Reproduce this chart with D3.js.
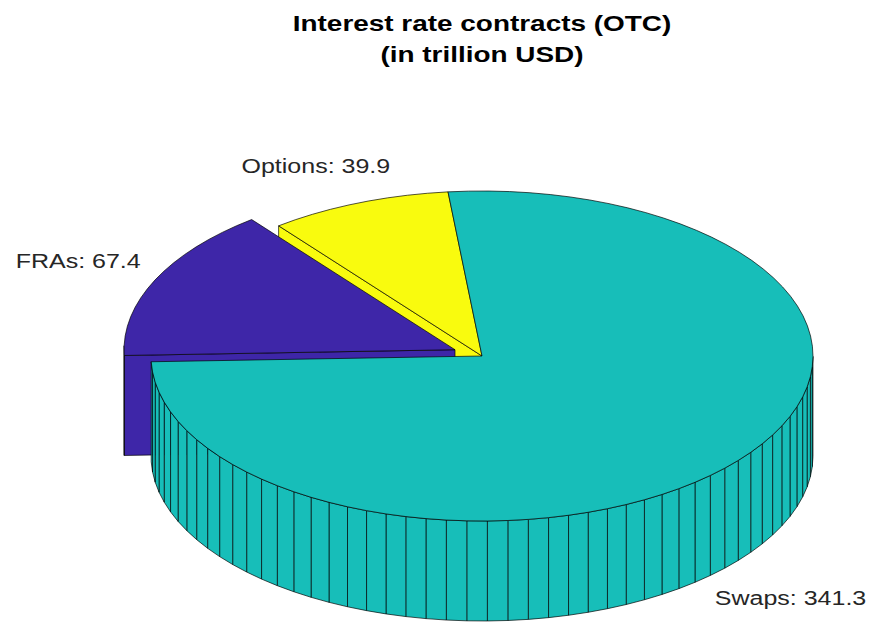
<!DOCTYPE html>
<html><head><meta charset="utf-8">
<script src="https://cdn.jsdelivr.net/npm/d3@7"></script>
<style>body{margin:0;background:#fff}svg{display:block}</style>
</head><body>
<svg id="chart" width="873" height="623"></svg>
<script>
// ---- data ----
const categories = ["FRAs", "Options", "Swaps"];
const values = [67.4, 39.9, 341.3];
const exploded = [true, false, false];
const sliceColors = ["#3E26A8", "#F9FB0E", "#17BEB9"];
const titleLines = ["Interest rate contracts (OTC)", "(in trillion USD)"];

// ---- layout ----
const W = 873, H = 623;
const cx = 482, cy = 356, rx = 331, ry = 165, depth = 100;
const startDeg = 268;       // d3 pie angle (clockwise from 12 o'clock)
const explodeDist = 0.09;
const maxPts = 100;
const textStretch = 1.25;
const labelNudge = { FRAs: [-17, 2], Options: [-18, 1], Swaps: [9, 19] };

const svg = d3.select("#chart");
const xScale = d3.scaleLinear().domain([-1, 1]).range([cx - rx, cx + rx]);
const yScale = d3.scaleLinear().domain([-1, 1]).range([cy + ry, cy - ry]);
const zScale = d3.scaleLinear().domain([0, 1]).range([0, depth]);

const total = d3.sum(values);
const data = categories.map((c, i) => ({ name: c, value: values[i], color: sliceColors[i], explode: exploded[i], idx: i }));
const pie = d3.pie().sort(null).value(d => d.value)
  .startAngle(startDeg * Math.PI / 180).endAngle((startDeg + 360) * Math.PI / 180);
const arcs = pie(data);

const toT = a => Math.PI / 2 - a; // math angle, ccw from 3 o'clock
function P(u, v, z) { return [xScale(u), yScale(v) + zScale(z)]; }

const slices = arcs.map((a, i) => {
  const t0 = toT(a.startAngle), t1 = toT(a.endAngle);
  const tm = (t0 + t1) / 2;
  const n = Math.max(1, Math.ceil(maxPts * a.data.value / total));
  const ts = d3.range(n + 1).map(k => t0 + (t1 - t0) * k / n);
  const off = a.data.explode ? [explodeDist * Math.cos(tm), explodeDist * Math.sin(tm)] : [0, 0];
  return { a, i, t0, t1, tm, ts, off, d: a.data };
});

// back-to-front order
const order = slices.slice().sort((p, q) => (Math.sin(q.tm) + q.off[1]) - (Math.sin(p.tm) + p.off[1]))
  .reverse();
// sort ascending by "frontness" : most back first
order.sort((p, q) => (Math.sin(q.tm) + q.off[1]) - (Math.sin(p.tm) + p.off[1]));

const line = d3.line();
const g = svg.append("g");
const strokeCol = "#000", strokeW = 0.8;

function poly(pts, fill) {
  g.append("path").attr("d", line(pts) + "Z")
    .attr("fill", fill).attr("stroke", strokeCol).attr("stroke-width", strokeW)
    .attr("stroke-linejoin", "round").attr("stroke-opacity", 0.85);
}

order.forEach(s => {
  const [ox, oy] = s.off;
  const c = s.d.color;
  const N = slices.length;
  const prev = slices[(s.i - 1 + N) % N], next = slices[(s.i + 1) % N];
  // radial face at t0 (larger t); normal t0 + 90deg
  if (Math.cos(s.t0) < 0 && (s.d.explode || prev.d.explode)) {
    const u = Math.cos(s.t0), v = Math.sin(s.t0);
    poly([P(ox, oy, 0), P(ox + u, oy + v, 0), P(ox + u, oy + v, 1), P(ox, oy, 1)], c);
  }
  // radial face at t1; normal t1 - 90deg
  if (Math.cos(s.t1) > 0 && (s.d.explode || next.d.explode)) {
    const u = Math.cos(s.t1), v = Math.sin(s.t1);
    poly([P(ox, oy, 0), P(ox + u, oy + v, 0), P(ox + u, oy + v, 1), P(ox, oy, 1)], c);
  }
  // outer side facets
  for (let k = 0; k < s.ts.length - 1; k++) {
    const ta = s.ts[k], tb = s.ts[k + 1];
    if (Math.sin((ta + tb) / 2) < 0) {
      poly([P(ox + Math.cos(ta), oy + Math.sin(ta), 0), P(ox + Math.cos(tb), oy + Math.sin(tb), 0),
            P(ox + Math.cos(tb), oy + Math.sin(tb), 1), P(ox + Math.cos(ta), oy + Math.sin(ta), 1)], c);
    }
  }
  // top face
  const top = [P(ox, oy, 0)].concat(s.ts.map(t => P(ox + Math.cos(t), oy + Math.sin(t), 0)));
  poly(top, c);
});

// labels
const fmt = d3.format(".1f");
slices.forEach(s => {
  const [ox, oy] = s.off;
  const z = Math.sin(s.tm) < 0 ? 1 : 0;
  const p = P(ox + 1.2 * Math.cos(s.tm), oy + 1.2 * Math.sin(s.tm), z);
  const nd = labelNudge[s.d.name] || [0, 0];
  svg.append("text")
    .attr("transform", `translate(${p[0] + nd[0]},${p[1] + nd[1]}) scale(${textStretch},1)`)
    .attr("text-anchor", "middle")
    .attr("font-family", "'Liberation Sans', Arial, Helvetica, sans-serif")
    .attr("font-size", 20).attr("fill", "#262626")
    .text(`${s.d.name}: ${fmt(s.d.value)}`);
});

// title
titleLines.forEach((t, i) => {
  svg.append("text")
    .attr("transform", `translate(482,${31 + i * 31}) scale(1.27,1)`)
    .attr("text-anchor", "middle")
    .attr("font-family", "'Liberation Sans', Arial, Helvetica, sans-serif")
    .attr("font-weight", "bold").attr("font-size", 22).attr("fill", "#000")
    .text(t);
});
</script>
</body></html>
